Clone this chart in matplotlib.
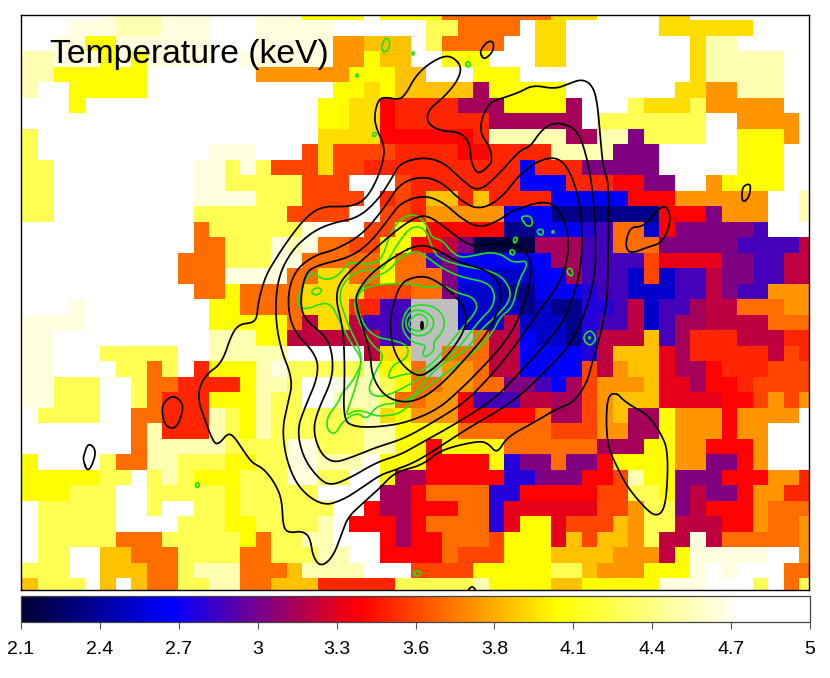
import numpy as np
import matplotlib
matplotlib.use('Agg')
import matplotlib.pyplot as plt
from matplotlib.colors import LinearSegmentedColormap

plt.rcParams['font.family'] = ['Liberation Sans', 'DejaVu Sans']

# temperature per letter, '#' is a pixel with no fit (grey)
level_codes = "NnbBIiPmceErROoGgYylwW"
level_temps = [2.15, 2.34, 2.51, 2.65, 2.75, 2.84, 3.0, 3.10, 3.17, 3.28, 3.35,
               3.45, 3.55, 3.66, 3.77, 3.89, 3.98, 4.07, 4.29, 4.54, 4.67, 4.85]

# map columns 0-16
left_rows = [
    "WWWWWwlllwwwWWWww", "WWWwwwlllwwwWWWww", "WWwwYYwwwwwwWWWww", "llwwwYwYwwwwWWwww",
    "llYYYYYYWWWWWWWoo", "lWWYYYYYWWWWWWWWW", "WWWYWWWWWWWWWWWWW", "WWWWWWWWWWWWWWWWW",
    "yWWWWWWWWWWWWWWWW", "yWWWWWWWWWWWwwwWW", "yyWWWWWWWWWwwywyR", "yyWWWWWWWWWwwyyyy",
    "yyWWWWWWWWWwwwwyy", "yyWWWWWWWWWyyyyyy", "WWWWWWWWWWWOyyyyy", "WWWWWWWWWWWOOyyyw",
    "WWWWWWWWWWOOOyyyw", "WWWWWWWWWWOOOwwww", "WWWWWWWWWWWOOYOOO", "WWWwWWWWWWWWYYOOO",
    "wwwwWWWWWWWWYYYYY", "wwWWWWWWWWWWlllYY", "wwWWWyyyyyWWlllll", "wwWWWWyyOyWrYYYlw",
    "wwyyyWWyOOrrrrYll", "wwyyyWWyOrrrYYYly", "WyyyyWWOOrrrlyYly", "WWWWWWWOlrrrlyYly",
    "WWWWWWWOlllllyyyy", "YWWWWyOOllyyyYYyy", "YYYYYyyWylyYYYyyy", "YYYyyyWWyyyyyYyyy",
    "WyyyyyWWyWWyyYyyy", "WyyyyyWWWWyyyYYyy", "WyyyyyOOOyyyyyYOy", "WyyWWGGOOOyyyyOOy",
    "yyyWWGGGOOylllOOO", "GyyyWGWGOOyyllOOG",
]
# map columns 17-33
mid_rows = [
    "wYYYYWYYYYOOOOOOO", "wwwWWWWWWyyOOOOWg", "wwwooGGGWyOOOOWWg", "wwwooYGGWWYYYWWWg",
    "ooooYYYGGWWWYYYWW", "WWWYYgYGGGGGmYYYY", "WWYYggErrrrmmmYYY", "WWYYggErrrrrrmmmm",
    "WWggggEEEEEErllll", "WRgRRRRrrrrEErrrr", "RRgRRrrrrrrrrrrBr", "yRRRWWWRrrrrrrrBB",
    "yRRRRWrRrGGrGrrrr", "RRRRWWRRroooooBBB", "ywWWWRRYYEEEEEnnB", "lwOORRYYEEcPNNNNm",
    "wOOOOOYOOiPBBBBBB", "OOggOOYOOOPBBbbbB", "OggggRRROOPbbbnnB", "Ogggrrii###bbbbnb",
    "Ocggciii###bbbcbb", "ccccccii####OccBb", "WWWWWcgg##OOOccBB", "yyyyylYYO#ooOccBB",
    "yWWwllyYOOooOOPPi", "yWWlllyOOooEiiicc", "yyyyylgYoooEEEEEO", "yyyyyllYYYYOOOOOO",
    "wwyyyllYYEYYYYOOO", "wwlllWYYYEEEEYIPP", "wwyyWWYmmEEEEEIIP", "yyWWWWmmEOOOOIIEE",
    "yyyWWEmmEEEOOIeee", "yylWEEEmEOOOOIeYY", "yllWWWEmEEOOORYYY", "yyllWWEEEEORRRYYY",
    "GllllWWWRRRRYYYYY", "GGrrrrryyyyylYYYY",
]
# map columns 34-50
right_rows = [
    "gggWWWWggWWWWWWWW", "gWWWWWWggggggWWWW", "gWWWWWWWWgllWWWWW", "gWWWWWWWWglllllWW",
    "WWWWWWWWWglllllWW", "YWWWWWWWggoolllWW", "YmWWWygggyoooooWW", "mmWyyyyyyyWWooooW",
    "lmmllPyyyyWWYYYoW", "llllPPPWWWWWYYYWW", "rrPPPPPWWWWWYYYWW", "BrrrEEPPWWoYYYYWW",
    "BBBBBEEEooooooWWl", "nnnnnnnEEEPoooWWl", "BBIiOObEPPPPPiWWW", "mmiiOOOPPPPPiiiic",
    "mmiiiiReeeePPiicc", "BmiiibRbiicPPiicc", "BBIiibbbiicPiiooo", "nnIIicbiimccOOOoo",
    "bnIiicbimmccccOOO", "bnIcccGimrrrcccrr", "BBIcGGGemrrrrrcRr", "BBRcoGGemmErrrRRR",
    "BmRoooGeemEErRRRR", "mmRoGGGeeeeEERoRo", "mmRoGmmYoooEooooW", "RRRoommYoooEooWWW",
    "OOOmmmYYooEEEoWWW", "OPPEYYYYooPPEoWWW", "PPEERlYYPPPEEEoor", "EEERRyyYPcPPEoorr",
    "eeeRRoyyPcEEEoOOO", "eRRRGoyycccEEoOOo", "eGRGGoyccwcOOOOOo", "GGGGooocYwwwwwWWo",
    "yyGoooYYYwWwWWWOO", "GGYYYYYwwwWWWyWOy",
]

cbar_ticks = [2.1, 2.39, 2.68, 2.97, 3.26, 3.55, 3.84, 4.13, 4.42, 4.71, 5.0]
cbar_labels = ['2.1', '2.4', '2.7', '3', '3.3', '3.6', '3.8', '4.1', '4.4', '4.7', '5']

# X-ray and galaxy-density contours, traced in map coordinates
black_closed = [
    [(462,67),(453,57),(443,56),(427,65),(415,77),(407,92),(400,100),(385,97),(378,100),(374,117),(377,130),(385,147),(382,167),(372,190),(362,202),(348,207),(322,206),(305,218),(288,240),(275,260),(265,277),(258,303),(257,318),(252,323),(240,324),(232,333),(222,363),(208,373),(200,385),(198,400),(205,420),(214,444),(220,443),(227,434),(233,435),(243,450),(252,463),(263,468),(275,483),(282,500),(283,527),(289,533),(302,531),(310,537),(313,557),(321,567),(333,557),(342,533),(348,517),(363,503),(380,488),(395,472),(423,465),(440,450),(477,441),(488,443),(497,454),(507,437),(533,423),(558,408),(573,403),(587,383),(592,363),(600,337),(607,302),(608,272),(609,205),(608,180),(603,167),(600,133),(597,100),(592,85),(582,79),(568,84),(555,89),(533,85),(520,92),(503,98),(490,102),(482,117),(480,133),(490,147),(492,160),(490,165),(478,175),(471,163),(470,143),(460,132),(440,131),(427,123),(428,110),(443,98),(457,82)],
    [(400,163),(423,157),(443,162),(460,178),(478,193),(500,173),(520,150),(530,147),(540,132),(550,124),(562,123),(577,130),(585,150),(592,183),(596,233),(595,283),(575,340),(545,372),(513,402),(470,427),(447,442),(427,455),(413,463),(395,470),(380,475),(363,487),(343,500),(323,506),(300,490),(287,463),(282,430),(288,403),(293,380),(280,347),(275,313),(278,277),(292,250),(312,232),(332,223),(358,218),(378,200),(392,178)],
    [(400,183),(423,176),(443,183),(460,200),(478,210),(500,200),(523,170),(547,157),(563,160),(575,183),(582,217),(582,267),(567,317),(543,347),(513,380),(493,400),(457,423),(423,442),(400,455),(377,462),(350,478),(330,486),(317,477),(303,457),(297,430),(305,407),(318,377),(317,355),(292,330),(287,297),(295,270),(315,255),(335,250),(362,235),(385,207)],
    [(400,203),(423,195),(443,202),(463,220),(480,228),(500,220),(513,210),(550,199),(565,220),(570,250),(560,283),(540,310),(510,353),(487,380),(467,400),(453,410),(420,430),(400,440),(377,447),(350,458),(333,463),(320,453),(313,430),(318,410),(332,380),(333,357),(327,337),(305,320),(300,303),(305,273),(318,265),(348,258),(368,245),(388,220)],
    [(400,227),(420,215),(433,218),(457,237),(473,247),(493,243),(517,245),(530,257),(532,273),(523,310),(507,340),(483,367),(460,390),(437,410),(405,423),(378,427),(355,427),(343,420),(345,370),(343,327),(335,297),(342,278),(368,255)],
    [(400,253),(417,245),(433,247),(457,262),(487,270),(500,283),(502,300),(490,330),(467,357),(443,383),(423,398),(405,403),(385,397),(372,377),(370,350),(355,303),(358,290),(372,272)],
    [(400,283),(417,276),(433,278),(457,297),(467,313),(465,330),(450,353),(430,372),(417,377),(400,363),(392,345),(390,323),(392,310)],
    [(480,53),(484,60),(493,52),(494,42),(488,41),(482,48)],
    [(742,203),(749,198),(751,185),(747,184),(742,188)],
    [(660,207),(668,207),(671,222),(662,243),(648,247),(630,254),(625,245),(630,227),(642,227),(652,217)],
    [(162,413),(165,425),(172,429),(178,425),(183,410),(182,402),(173,395),(163,403)],
    [(83,460),(88,473),(95,458),(95,448),(88,443),(84,455)],
    [(608,395),(606,420),(608,447),(617,467),(628,488),(645,508),(655,516),(663,512),(667,493),(668,450),(660,432),(648,415),(635,408),(623,400),(617,393)],
    [(465,596),(472,584),(479,596)],
    [(421,322),(423,322),(423,329),(421,329)],
]
green_closed = [
    [(402,217),(417,214),(428,227),(432,238),(442,240),(450,250),(460,258),(477,255),(490,252),(503,255),(513,263),(530,260),(518,282),(513,307),(500,317),(493,332),(480,347),(460,363),(440,377),(420,393),(400,403),(377,405),(367,420),(357,412),(342,422),(335,435),(327,430),(327,417),(338,403),(342,393),(348,387),(355,377),(363,360),(352,345),(338,318),(333,307),(325,302),(305,310),(297,305),(300,292),(310,270),(323,280),(335,278),(345,268),(348,262),(368,265),(382,260),(390,233)],
    [(400,240),(412,226),(425,228),(432,247),(437,257),(457,265),(497,272),(510,287),(510,300),(500,313),(480,330),(467,350),(443,363),(420,385),(405,413),(378,417),(367,412),(355,410),(345,417),(352,398),(358,378),(362,360),(358,345),(352,333),(347,322),(337,292),(355,270),(382,270),(388,260)],
    [(400,257),(417,250),(427,257),(440,267),(460,277),(487,282),(495,293),(493,307),(480,320),(470,333),(457,350),(443,360),(433,367),(420,378),(400,390),(380,398),(367,392),(375,372),(385,355),(372,345),(360,325),(352,300),(370,278),(388,272)],
    [(410,283),(427,288),(443,285),(457,293),(473,297),(478,307),(472,317),(463,327),(447,347),(433,363),(420,372),(400,375),(387,380),(392,365),(408,358),(408,345),(392,340),(375,337),(362,323),(355,297),(368,285)],
    [(408,322),(417,313),(427,317),(428,327),(418,332),(410,328)],
    [(405,320),(413,309),(428,312),(435,322),(430,333),(417,337),(407,330)],
    [(402,320),(410,305),(433,305),(445,317),(443,332),(433,342),(435,350),(425,358),(422,353),(427,345),(413,343),(403,332)],
    [(310,292),(317,296),(323,290),(317,287)],
    [(382,50),(385,53),(390,47),(389,39),(385,38),(382,45)],
    [(412,52),(414,52),(414,55),(412,55)],
    [(356,74),(358,74),(358,77),(356,77)],
    [(465,63),(468,68),(471,65),(468,61)],
    [(372,135),(375,137),(377,133),(374,132)],
    [(195,485),(197,488),(200,485),(197,482)],
    [(413,573),(417,577),(422,573),(417,570)],
    [(552,231),(554,231),(554,233),(552,233)],
    [(566,272),(572,277),(573,272),(570,267)],
    [(582,338),(590,347),(597,338),(590,329)],
    [(589,337),(590,337),(590,339),(589,339)],
    [(521,218),(527,227),(533,225),(531,216),(523,216)],
    [(537,233),(542,236),(544,230),(538,229)],
    [(513,240),(515,244),(518,238),(515,237)],
    [(509,252),(513,256),(515,252),(512,249)],
]


def smooth(points):
    # corner cutting, only so the outlines do not look polygonal
    p = np.array(points + points[:1], dtype=float)
    for _ in range(3):
        a = 0.75 * p[:-1] + 0.25 * p[1:]
        b = 0.25 * p[:-1] + 0.75 * p[1:]
        p = np.empty((2 * len(a) + 1, 2))
        p[0:-1:2] = a
        p[1:-1:2] = b
        p[-1] = a[0]
    return p


lookup = dict(zip(level_codes, level_temps))
lookup['#'] = np.nan
temp = np.array([[lookup[c] for c in l + m + r]
                 for l, m, r in zip(left_rows, mid_rows, right_rows)])

cmap = LinearSegmentedColormap.from_list('temp', [
    (0.0, (0, 0, 0.2)), (0.19, (0, 0, 1)), (0.43, (1, 0, 0)),
    (0.68, (1, 1, 0)), (0.915, (1, 1, 1)), (1.0, (1, 1, 1))])
cmap.set_bad((0.75, 0.75, 0.75))

W, H = 830, 678
fig = plt.figure(figsize=(W / 100, H / 100), dpi=100)
ax = fig.add_axes([21 / W, 1 - 590 / H, (808.5 - 21) / W, (590 - 15) / H])
cax = fig.add_axes([21 / W, 1 - 622 / H, (810 - 21) / W, 26 / H])

x_edges = 22.7 + 15.53 * np.arange(temp.shape[1] + 1)
x_edges[0] = 21
y_edges = 4.8 + 15.5 * np.arange(temp.shape[0] + 1)
mesh = ax.pcolormesh(x_edges, y_edges, np.ma.masked_invalid(temp), cmap=cmap,
                     vmin=2.1, vmax=5.0, antialiased=False, linewidth=0)

for c in green_closed:
    s = smooth(c)
    ax.plot(s[:, 0], s[:, 1], color='#1fe01f', lw=1.2)
for c in black_closed:
    s = smooth(c)
    ax.plot(s[:, 0], s[:, 1], color='black', lw=1.25)

ax.set_xlim(21, 808.5)
ax.set_ylim(590, 15)
ax.set_xticks([])
ax.set_yticks([])
for sp in ax.spines.values():
    sp.set_linewidth(1.0)

ax.text(50, 63, 'Temperature (keV)', fontsize=24.3, color='black', ha='left', va='baseline')

cb = fig.colorbar(mesh, cax=cax, orientation='horizontal', ticks=cbar_ticks)
cb.set_ticklabels(cbar_labels)
cax.tick_params(axis='x', length=5, width=0.8, color='#555555', labelsize=14, pad=9)
cb.outline.set_edgecolor('#444444')
cb.outline.set_linewidth(0.9)

fig.savefig('out.png', dpi=100)
